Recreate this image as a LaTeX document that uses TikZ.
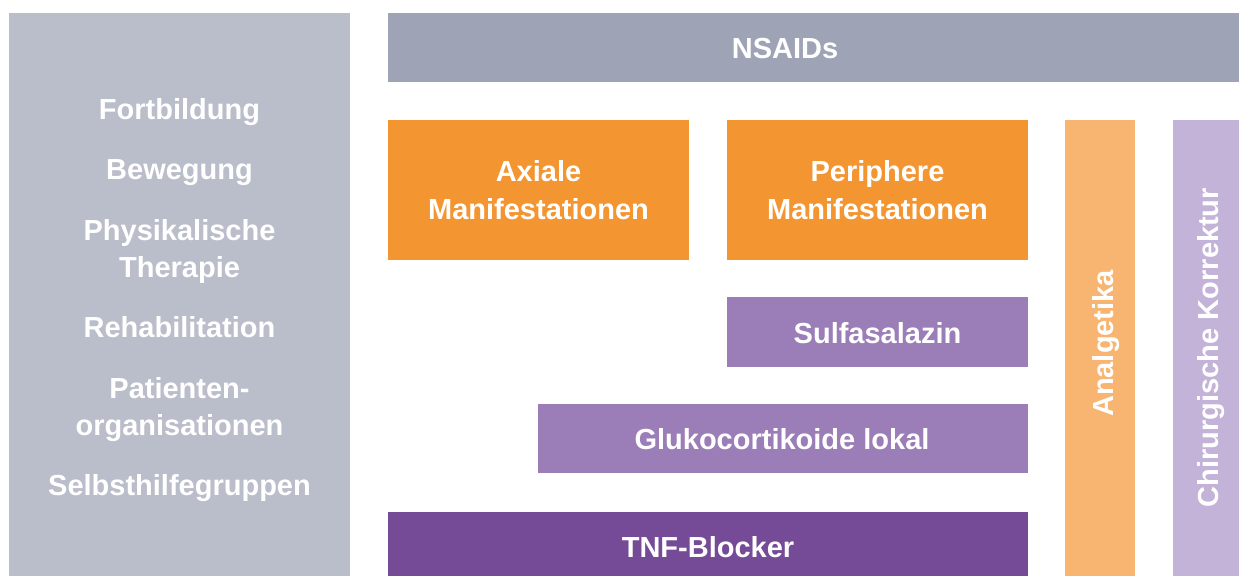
\documentclass[tikz,border=0pt]{standalone}
\usepackage{fontspec}
\setmainfont{Liberation Sans}
\definecolor{panelgray}{HTML}{BABDCA}
\definecolor{nsaidgray}{HTML}{9EA3B5}
\definecolor{orangeA}{HTML}{F39530}
\definecolor{orangeL}{HTML}{F8B572}
\definecolor{lilacL}{HTML}{C4B3D9}
\definecolor{lilacM}{HTML}{9B7DB8}
\definecolor{purpleD}{HTML}{754A96}
\begin{document}
\begin{tikzpicture}[x=1pt,y=-1pt,
  box/.style={draw=none,inner sep=0pt,outer sep=0pt},
  lbl/.style={text=white,inner sep=0pt,anchor=base,
    font=\fontsize{29}{37}\selectfont\bfseries}]
\useasboundingbox (0,0) rectangle (1239,576);
% left panel
\node[box,fill=panelgray,minimum width=341pt,minimum height=563pt] (panel) at (179.5,294.5) {};
\node[lbl] (t1) at (179.5,119) {Fortbildung};
\node[lbl] (t2) at (179.5,179) {Bewegung};
\node[lbl] (t3a) at (179.5,240) {Physikalische};
\node[lbl] (t3b) at (179.5,277) {Therapie};
\node[lbl] (t4) at (179.5,337) {Rehabilitation};
\node[lbl] (t5a) at (179.5,398) {Patienten-};
\node[lbl] (t5b) at (179.5,435) {organisationen};
\node[lbl] (t6) at (179.5,495) {Selbsthilfegruppen};
% right side
\node[box,fill=nsaidgray,minimum width=851pt,minimum height=69pt] (nsaid) at (813.5,47.5) {};
\node[lbl] (nsaidt) at (785,58) {NSAIDs};
\node[box,fill=orangeA,minimum width=301pt,minimum height=140pt] (axial) at (538.5,190) {};
\node[lbl] (axialt1) at (538.5,181) {Axiale};
\node[lbl] (axialt2) at (538.5,219) {Manifestationen};
\node[box,fill=orangeA,minimum width=301pt,minimum height=140pt] (peri) at (877.5,190) {};
\node[lbl] (perit1) at (877.5,181) {Periphere};
\node[lbl] (perit2) at (877.5,219) {Manifestationen};
\node[box,fill=lilacM,minimum width=301pt,minimum height=70pt] (sulfa) at (877.5,332) {};
\node[lbl] (sulfat) at (877.5,343) {Sulfasalazin};
\node[box,fill=lilacM,minimum width=490pt,minimum height=69pt] (gluko) at (783,438.5) {};
\node[lbl] (glukot) at (782,449) {Glukocortikoide lokal};
\node[box,fill=purpleD,minimum width=640pt,minimum height=64pt] (tnf) at (708,544) {};
\node[lbl] (tnft) at (708,557) {TNF-Blocker};
\node[box,fill=orangeL,minimum width=70pt,minimum height=456pt] (analg) at (1100,348) {};
\node[lbl,rotate=90] (analgt) at (1113,343.5) {Analgetika};
\node[box,fill=lilacL,minimum width=66pt,minimum height=456pt] (chir) at (1206,348) {};
\node[lbl,rotate=90] (chirt) at (1218,347.5) {Chirurgische Korrektur};
\end{tikzpicture}
\end{document}
